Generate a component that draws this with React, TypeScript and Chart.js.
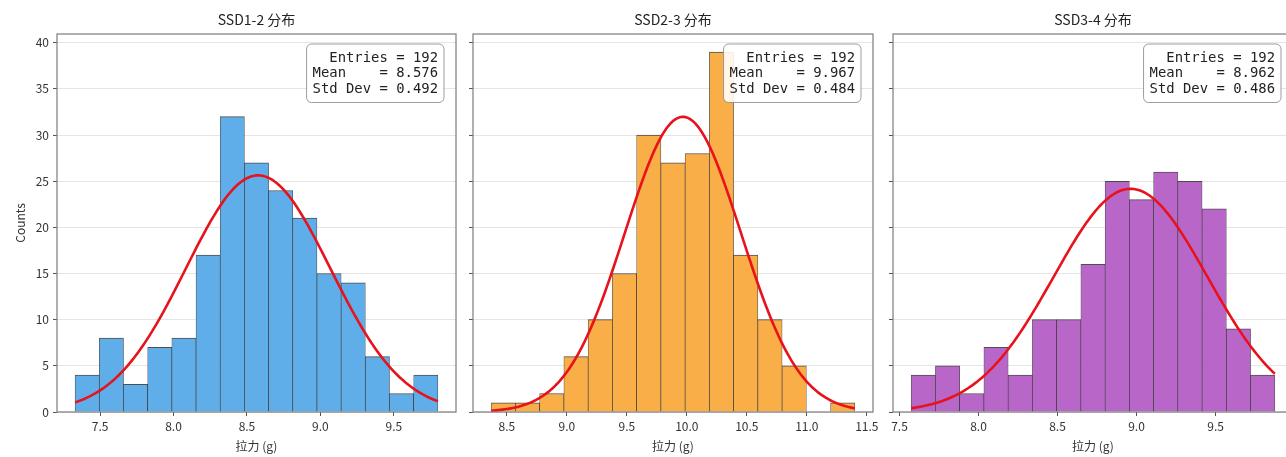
import React, { useEffect, useRef } from "react";
import { Chart, registerables } from "chart.js";

Chart.register(...registerables);

// ---- data ----
const panelTitles = ["SSD1-2 分布", "SSD2-3 分布", "SSD3-4 分布"];
const ssd12Counts = [4, 8, 3, 7, 8, 17, 32, 27, 24, 21, 15, 14, 6, 2, 4];
const ssd23Counts = [1, 1, 2, 6, 10, 15, 30, 27, 28, 39, 17, 10, 5, 0, 1];
const ssd34Counts = [4, 5, 2, 7, 4, 10, 10, 16, 25, 23, 26, 25, 22, 9, 4];
const histLow = [7.33, 8.369, 7.574];
const histHigh = [9.8, 11.4, 9.875];
const entries = [192, 192, 192];
const means = [8.576, 9.967, 8.962];
const stdDevs = [0.492, 0.484, 0.486];
const xLabel = "拉力 (g)";
const yLabel = "Counts";
const barColors = ["#5FAEEA", "#FAAE48", "#B867C9"];

const allCounts = [ssd12Counts, ssd23Counts, ssd34Counts];

const FONT = "'Noto Sans CJK SC', 'Noto Sans', sans-serif";

const layouts = [
  { left: 0, width: 466, yAxisWidth: 57, padRight: 10, showY: true },
  { left: 463, width: 420, yAxisWidth: 10, padRight: 10, showY: false },
  { left: 883, width: 420, yAxisWidth: 10, padRight: 10, showY: false },
];

const decorPlugin = {
  id: "decor",
  afterDatasetsDraw(chart: any, _args: any, opts: any) {
    const { ctx, chartArea } = chart;
    const { left, right, top, bottom } = chartArea;
    ctx.save();
    // spines
    ctx.strokeStyle = "#7c7c7c";
    ctx.lineWidth = 1.2;
    ctx.strokeRect(left, top, right - left, bottom - top);

    // stats box
    const lines: string[] = opts.lines || [];
    ctx.font = "13.9px 'DejaVu Sans Mono', monospace";
    const lh = 15.5;
    const tw = Math.max(...lines.map((l) => ctx.measureText(l).width));
    const padX = 6;
    const padY = 6;
    const bw = tw + 2 * padX;
    const bh = lines.length * lh + 2 * padY;
    const bx = right - 12 - bw;
    const by = top + 10;
    ctx.beginPath();
    (ctx as any).roundRect(bx, by, bw, bh, 5);
    ctx.fillStyle = "rgba(255,255,255,0.88)";
    ctx.fill();
    ctx.strokeStyle = "rgba(140,140,140,0.85)";
    ctx.lineWidth = 1;
    ctx.stroke();
    ctx.fillStyle = "#222";
    ctx.textAlign = "right";
    ctx.textBaseline = "middle";
    lines.forEach((l, i) => {
      ctx.fillText(l, bx + bw - padX, by + padY + lh * (i + 0.5) + 0.5);
    });

    // title
    ctx.font = `14px ${FONT}`;
    ctx.fillStyle = "#222";
    ctx.textAlign = "center";
    ctx.textBaseline = "middle";
    ctx.fillText(opts.title, (left + right) / 2, 20);
    ctx.restore();
  },
};

function buildChart(canvas: HTMLCanvasElement, idx: number) {
  const counts = allCounts[idx];
  const lo = histLow[idx];
  const hi = histHigh[idx];
  const nb = counts.length;
  const binW = (hi - lo) / nb;
  const range = hi - lo;
  const xMin = lo - 0.05 * range;
  const xMax = hi + 0.05 * range;
  const yMax = Math.max(...allCounts.flat()) * 1.05;
  const lay = layouts[idx];

  const barData = counts.map((c, i) => ({ x: lo + binW * (i + 0.5), y: c }));
  // Gaussian fit drawn from the displayed Entries / Mean / Std Dev
  const mu = means[idx];
  const sd = stdDevs[idx];
  const n = entries[idx];
  const curve: { x: number; y: number }[] = [];
  const steps = 160;
  for (let i = 0; i <= steps; i++) {
    const x = lo + (range * i) / steps;
    const z = (x - mu) / sd;
    curve.push({ x, y: (n * binW * Math.exp(-0.5 * z * z)) / (sd * Math.sqrt(2 * Math.PI)) });
  }

  const lines = [
    `Entries = ${entries[idx]}`,
    `Mean    = ${means[idx].toFixed(3)}`,
    `Std Dev = ${stdDevs[idx].toFixed(3)}`,
  ];

  return new Chart(canvas, {
    type: "bar",
    data: {
      datasets: [
        {
          type: "bar",
          data: barData as any,
          backgroundColor: barColors[idx],
          borderColor: "rgba(20,20,20,0.75)",
          borderWidth: { top: 1, left: 0.7, right: 0.7, bottom: 0 } as any,
          borderSkipped: false as any,
          categoryPercentage: 1,
          barPercentage: 1,
          order: 2,
        },
        {
          type: "line",
          data: curve as any,
          borderColor: "#E8121C",
          borderWidth: 2.6,
          pointRadius: 0,
          fill: false,
          tension: 0,
          order: 1,
        },
      ],
    },
    options: {
      responsive: false,
      animation: false,
      devicePixelRatio: 1,
      events: [],
      layout: { padding: { top: 34, left: 0, right: lay.padRight, bottom: 0 } },
      plugins: {
        legend: { display: false },
        tooltip: { enabled: false },
        title: { display: false },
        decor: { lines, title: panelTitles[idx] },
      } as any,
      scales: {
        x: {
          type: "linear",
          min: xMin,
          max: xMax,
          offset: false,
          afterFit: (s: any) => {
            s.height = 45;
          },
          ticks: {
            stepSize: 0.5,
            includeBounds: false,
            autoSkip: false,
            maxRotation: 0,
            padding: 3,
            color: "#333",
            font: { size: 12, family: FONT },
            callback: (v: any) => Number(v).toFixed(1),
          },
          grid: {
            display: true,
            offset: false,
            drawOnChartArea: false,
            drawTicks: true,
            tickLength: 4,
            tickColor: "#555",
          },
          border: { display: false },
          title: {
            display: true,
            text: xLabel,
            color: "#333",
            padding: { top: 0, bottom: 3 },
            font: { size: 12, family: FONT },
          },
        },
        y: {
          type: "linear",
          min: 0,
          max: yMax,
          afterFit: (s: any) => {
            s.width = lay.yAxisWidth;
          },
          ticks: {
            display: lay.showY,
            stepSize: 5,
            includeBounds: false,
            padding: 4,
            color: "#333",
            font: { size: 12, family: FONT },
          },
          grid: {
            color: "rgba(0,0,0,0.1)",
            tickColor: "#555",
            tickLength: 4,
            lineWidth: 1,
          },
          border: { display: false },
          title: {
            display: lay.showY,
            text: yLabel,
            color: "#333",
            padding: { top: 13, bottom: 0 },
            font: { size: 12, family: FONT },
          },
        },
      } as any,
    },
    plugins: [decorPlugin as any],
  });
}

export default function App() {
  const r0 = useRef<HTMLCanvasElement>(null);
  const r1 = useRef<HTMLCanvasElement>(null);
  const r2 = useRef<HTMLCanvasElement>(null);

  useEffect(() => {
    const refs = [r0, r1, r2];
    const charts = refs.map((r, i) => buildChart(r.current as HTMLCanvasElement, i));
    return () => charts.forEach((c) => c.destroy());
  }, []);

  const refs = [r0, r1, r2];
  return (
    <div
      style={{
        position: "absolute",
        left: 0,
        top: 0,
        width: 1286,
        height: 457,
        overflow: "hidden",
        background: "#fff",
      }}
    >
      {layouts.map((l, i) => (
        <canvas
          key={i}
          ref={refs[i]}
          width={l.width}
          height={457}
          style={{ position: "absolute", left: l.left, top: 0, width: l.width, height: 457 }}
        />
      ))}
    </div>
  );
}
